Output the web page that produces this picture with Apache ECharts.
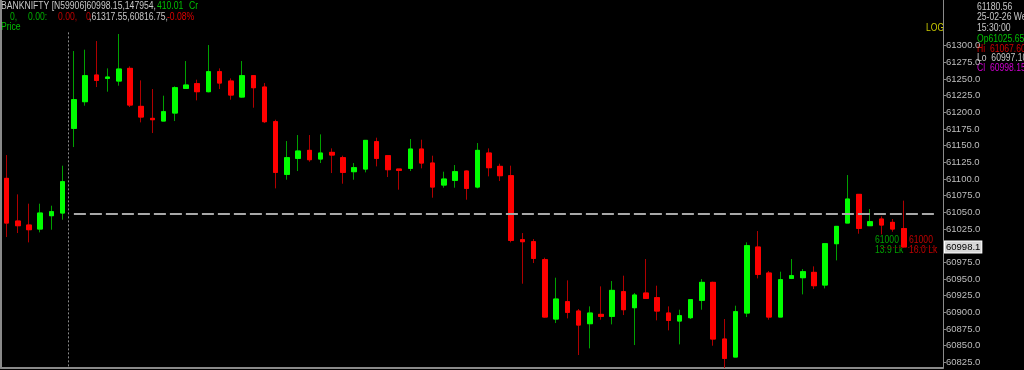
<!DOCTYPE html>
<html>
<head>
<meta charset="utf-8">
<script src="https://cdn.jsdelivr.net/npm/echarts@6/dist/echarts.min.js"></script>
<style>
html,body{margin:0;padding:0;background:#000;}
#chart{width:1024px;height:370px;}
</style>
</head>
<body>
<div id="chart"></div>
<script>
// ---- data ----
const categories = Array.from({length: 84}, (_, i) => String(i + 1));
const opens = [
61101,61037,61031,61025,61045,61049,61176,61216,61256,61251,
61247,61266,61209,61191,61187,61199,61236,61243,61231,61261,
61247,61223,61255,61238,61186,61107,61131,61143,61130,61140,
61132,61111,61115,61156,61135,61115,61116,61145,61124,61091,
61098,61112,61088,61139,61119,61105,61009,61006,60979,60890,
60916,60902,60883,60897,60894,60931,60907,60929,60922,60899,
60887,60892,60918,60945,60860,60833,60899,60998,60959,60893,
60951,60952,60960,60941,61003,61034,61077,61030,61040,61035,
61025.65];
const closes = [
61034,61030,61024,61049,61051,61096,61219,61255,61248,61253,
61265,61211,61193,61189,61201,61237,61241,61231,61261,61244,
61226,61255,61237,61186,61110,61132,61142,61129,61139,61136,
61110,61117,61158,61131,61114,61113,61145,61124,61088,61100,
61111,61086,61143,61117,61105,61008,61006,60981,60893,60920,
60900,60881,60899,60894,60933,60904,60926,60921,60902,60888,
60895,60919,60945,60860,60831,60901,61000,60957,60893,60949,
60955,60961,60940,61003,61029,61070,61026,61036,61031,61025,
60998.15];
const highs = [
61136,61077,61063,61063,61060,61120,61292,61294,61307,61266,
61317.55,61269,61248,61235,61225,61239,61277,61249,61301,61266,
61251,61277,61256,61244,61189,61157,61166,61166,61167,61146,
61135,61124,61158,61162,61135,61115,61160,61159,61135,61111,
61121,61113,61154,61146,61123,61120,61019,61010,60982,60952,
60948,60905,60909,60939,60947,60955,60929,60980,60940,60909,
60904,60920,60950,60946,60890,60910,61005,61022,60962,60961,
60980,60965,60969,61003,61029,61106,61077,61055,61044,61040,
61067.6];
const lows = [
61013,61019,61005,61020,61024,61039,61148,61210,61238,61231,
61240,61208,61185,61169,61187,61187,61236,61218,61230,61235,
61219,61222,61207,61184,61086,61099,61112,61126,61124,61109,
61093,61099,61110,61119,61103,61084,61112,61116,61072,61087,
61087,61069,61086,61104,61097,61005,60943,60974,60892,60884,
60891,60836,60846,60889,60882,60896,60851,60921,60888,60873,
60852,60890,60904,60850,60816.75,60833,60893,60951,60889,60893,
60950,60927,60935,60936,60978,61034,61018,61030,61017,61021,
60997.1];
const yTicks = [60825,60850,60875,60900,60925,60950,60975,61000,61025,61050,
                61075,61100,61125,61150,61175,61200,61225,61250,61275,61300];
const yMin = 60816.55, yMax = 61368.55;
const refLevel = 61048.5;      // dashed horizontal level
const lastPrice = 60998.15;
const sessionBreakAfter = 5;   // dotted vertical line between candle 6 and 7

const FONT = "'Liberation Sans',Arial,sans-serif";

const full = opens.map((o, i) => [o, closes[i], lows[i], highs[i]]);
const bodies = opens.map((o, i) => [o, closes[i], Math.min(o, closes[i]), Math.max(o, closes[i])]);

const chart = echarts.init(document.getElementById('chart'), null, {renderer: 'canvas'});

function txt(x, y, text, fill, size) {
  return {type: 'text', x: x, y: y, scaleX: 0.86, silent: true,
    style: {text: text, fill: fill, font: (size || 10) + 'px ' + FONT, verticalAlign: 'middle', textVerticalAlign: 'middle'}};
}

const option = {
  backgroundColor: '#000',
  animation: false,
  grid: {left: 1, right: 81, top: 0, height: 368},
  xAxis: {
    type: 'category', data: categories, boundaryGap: true,
    axisLine: {show: true, lineStyle: {color: '#8a8a8a', width: 2}},
    axisTick: {show: false}, axisLabel: {show: false}, splitLine: {show: false}
  },
  yAxis: [{
    type: 'value', position: 'right', min: yMin, max: yMax, scale: true,
    axisLine: {show: true, lineStyle: {color: '#8a8a8a', width: 1}},
    axisTick: {show: true, length: 3, customValues: yTicks, lineStyle: {color: '#8a8a8a'}},
    axisLabel: {show: true, customValues: yTicks, margin: 3, color: '#bdbdbd',
      fontFamily: FONT, fontSize: 9.5, formatter: v => v.toFixed(1)},
    splitLine: {show: false}
  }, {
    type: 'value', position: 'left', min: yMin, max: yMax,
    axisLine: {show: true, lineStyle: {color: '#8a8a8a', width: 2}},
    axisTick: {show: false}, axisLabel: {show: false}, splitLine: {show: false}
  }],
  series: [{
    type: 'candlestick', data: full, barWidth: 5, silent: true, z: 3,
    itemStyle: {color: '#00ff00', color0: '#ff0000', borderColor: '#00a000', borderColor0: '#b00000', borderWidth: 1},
    markLine: {
      silent: true, symbol: 'none', animation: false, z: 10,
      data: [
        [{coord: ['7', refLevel], lineStyle: {color: '#a8a8a8', width: 2, type: [12, 4]}, label: {show: false}},
         {coord: ['84', refLevel]}],
        [{coord: ['79', lastPrice], lineStyle: {color: '#a00000', width: 1, type: [1, 2]}, label: {show: false}},
         {coord: ['84', lastPrice]}],
        {yAxis: lastPrice, lineStyle: {color: 'rgba(0,0,0,0)', width: 1, type: 'solid'},
         label: {show: true, position: 'end', distance: 2, formatter: '60998.1', color: '#000',
           backgroundColor: '#d6d6d6', borderColor: '#ffffff', borderWidth: 1,
           padding: [1, 1, 0, 1], fontFamily: FONT, fontSize: 9.5}}
      ]
    }
  }, {
    type: 'candlestick', data: bodies, barWidth: 5, silent: true, z: 4,
    itemStyle: {color: '#00ff00', color0: '#ff0000', borderColor: '#00ff00', borderColor0: '#ff0000', borderWidth: 1}
  }],
  graphic: [
    txt(1, 6.5, 'BANKNIFTY [N59906]60998.15,147954,', '#c8c8c8'),
    txt(157, 6.5, '410.01', '#00c000'),
    txt(189, 6.5, 'Cr', '#00c000'),
    txt(10, 17.3, '0,', '#00b000'),
    txt(28, 17.3, '0.00:', '#00b000'),
    txt(58, 17.3, '0.00,', '#c00000'),
    txt(86, 17.3, '0', '#c00000'),
    txt(89, 17.3, ',61317.55,60816.75,', '#c8c8c8'),
    txt(167, 17.3, '-0.08%', '#e00000'),
    txt(1, 27, 'Price', '#00c000'),
    txt(926, 28, 'LOG', '#c8c800'),
    txt(977, 7, '61180.56', '#c8c8c8'),
    txt(977, 17, '25-02-26 We', '#c8c8c8'),
    txt(977, 28, '15:30:00', '#c8c8c8'),
    txt(977, 39.2, 'Op61025.65', '#00c000'),
    txt(977, 49, 'Hi  61067.60', '#d00000'),
    txt(977, 58.5, 'Lo  60997.10', '#c8c8c8'),
    txt(977, 68, 'Cl  60998.15', '#d000d0'),
    txt(875, 240, '61000', '#00a000'),
    txt(909, 240, '61000', '#c00000'),
    txt(875, 250.5, '13.9 Lk', '#00a000'),
    txt(909, 250.5, '16.0 Lk', '#c00000')
  ]
};
chart.setOption(option);

// dotted session separator between two candles, placed through the axis scale
const xa = chart.convertToPixel({xAxisIndex: 0}, sessionBreakAfter);
const xb = chart.convertToPixel({xAxisIndex: 0}, sessionBreakAfter + 1);
const yTop = chart.convertToPixel({yAxisIndex: 0}, 61320);
const yBot = chart.convertToPixel({yAxisIndex: 0}, yMin);
const xm = Math.round((xa + xb) / 2) + 0.5;
chart.setOption({graphic: option.graphic.concat([{
  type: 'line', silent: true,
  shape: {x1: xm, y1: yTop, x2: xm, y2: yBot},
  style: {stroke: '#8a8a8a', lineWidth: 1, lineDash: [2, 2]}
}])});
</script>
</body>
</html>
